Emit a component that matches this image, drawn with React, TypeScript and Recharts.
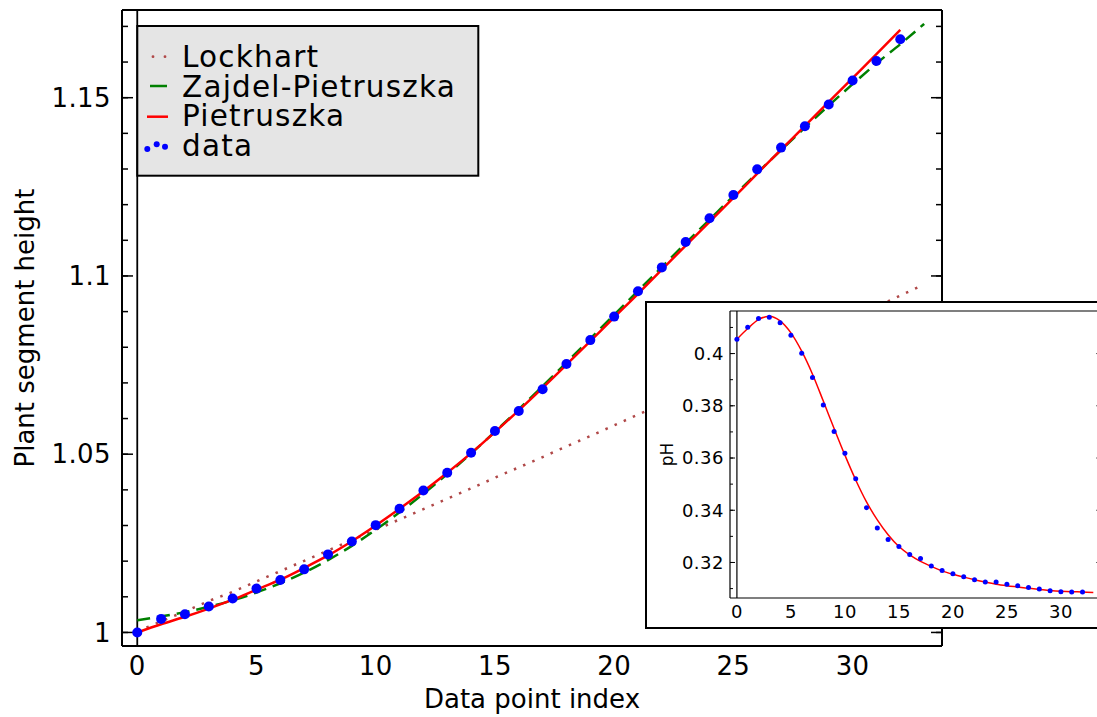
import React from 'react';
import { ComposedChart, Line, Scatter, XAxis, YAxis, ReferenceLine, Legend } from 'recharts';

// main plot: plant segment height vs data point index
const pointIndex = [0, 1, 2, 3, 4, 5, 6, 7, 8, 9, 10, 11, 12, 13, 14, 15, 16, 17, 18, 19, 20, 21, 22, 23, 24, 25, 26, 27, 28, 29, 30, 31, 32];
const plantHeight = [
  1.0, 1.0038, 1.0051, 1.0073, 1.0095, 1.0123, 1.0147, 1.0177, 1.0219, 1.0255, 1.0301,
  1.0347, 1.0398, 1.0448, 1.0504, 1.0565, 1.0621, 1.0682, 1.0753, 1.082, 1.0886,
  1.0957, 1.1024, 1.1095, 1.1162, 1.1227, 1.1299, 1.136, 1.142, 1.1481, 1.1548, 1.1603, 1.1664,
];
const curveIndex = [0, 1, 2, 3, 4, 5, 6, 7, 8, 9, 10, 11, 12, 13, 14, 15, 16, 17, 18, 19, 20, 21, 22, 23, 24, 25, 26, 27, 28, 29, 30, 31, 32, 33];
const lockhartFit = [
  1.0003, 1.0031, 1.0059, 1.0088, 1.0114, 1.0143, 1.0172, 1.0201, 1.023, 1.0259, 1.0288,
  1.0317, 1.0346, 1.0375, 1.0404, 1.0434, 1.0463, 1.0492, 1.0522, 1.0551, 1.0581,
  1.0611, 1.0641, 1.0671, 1.0701, 1.0731, 1.0761, 1.0792, 1.0822, 1.0853, 1.0884, 1.0914, 1.0945, 1.0976,
];
const zajdelFit = [
  1.0034, 1.0045, 1.0057, 1.0072, 1.009, 1.0112, 1.0138, 1.0168, 1.0203, 1.0243, 1.0288,
  1.0337, 1.0389, 1.0444, 1.0502, 1.0563, 1.0626, 1.0691, 1.0757, 1.0824, 1.0891,
  1.0958, 1.1025, 1.1092, 1.1158, 1.1224, 1.1289, 1.1353, 1.1416, 1.1478, 1.1538, 1.1596, 1.165, 1.1707,
];
const pietruszkaIndex = [0, 1, 2, 3, 4, 5, 6, 7, 8, 9, 10, 11, 12, 13, 14, 15, 16, 17, 18, 19, 20, 21, 22, 23, 24, 25, 26, 27, 28, 29, 30, 31, 32];
const pietruszkaFit = [
  1.0, 1.0023, 1.0044, 1.0067, 1.0092, 1.012, 1.0148, 1.0181, 1.0216, 1.0256, 1.03,
  1.0347, 1.0396, 1.0448, 1.0503, 1.0562, 1.0623, 1.0686, 1.0751, 1.0817, 1.0884,
  1.095, 1.1018, 1.1085, 1.1152, 1.1219, 1.1287, 1.1354, 1.1421, 1.1488, 1.1555, 1.1622, 1.169,
];

// inset: pH
const phIndex = [0, 1, 2, 3, 4, 5, 6, 7, 8, 9, 10, 11, 12, 13, 14, 15, 16, 17, 18, 19, 20, 21, 22, 23, 24, 25, 26, 27, 28, 29, 30, 31, 32];
const phMeasured = [
  0.4055, 0.4101, 0.4134, 0.4139, 0.4118, 0.407, 0.4001, 0.3908, 0.3803, 0.3702, 0.3618,
  0.3521, 0.341, 0.3332, 0.3288, 0.3261, 0.3231, 0.3215, 0.3187, 0.3169, 0.3157,
  0.3145, 0.3134, 0.3125, 0.3125, 0.3117, 0.3111, 0.3104, 0.3098, 0.3092, 0.3088, 0.3087, 0.3087,
];
const phFitIndex = [0, 1, 2, 3, 4, 5, 6, 7, 8, 9, 10, 11, 12, 13, 14, 15, 16, 17, 18, 19, 20, 21, 22, 23, 24, 25, 26, 27, 28, 29, 30, 31, 32, 33];
const phFit = [
  0.4055, 0.4096, 0.413, 0.4143, 0.4125, 0.4079, 0.4009, 0.3921, 0.3818, 0.3713, 0.3611,
  0.3516, 0.3432, 0.3363, 0.3306, 0.3261, 0.3229, 0.3204, 0.3185, 0.3168, 0.3155,
  0.3144, 0.3134, 0.3125, 0.3117, 0.3111, 0.3106, 0.3101, 0.3097, 0.3093, 0.309, 0.3088, 0.3087, 0.3085,
];

const legendLabels = ['Lockhart', 'Zajdel-Pietruszka', 'Pietruszka', 'data'];

const xDomain = [-0.64, 33.75];
const mainYDomain = [0.9962, 1.1746];
const insetYDomain = [0.3064, 0.4163];
const mainXTicks = [0, 5, 10, 15, 20, 25, 30];
const minorXTicks = [0, 1, 2, 3, 4, 5, 6, 7, 8, 9, 10, 11, 12, 13, 14, 15, 16, 17, 18, 19, 20, 21, 22, 23, 24, 25, 26, 27, 28, 29, 30, 31, 32, 33];
const mainYTicks = [1, 1.05, 1.1, 1.15];
const mainYMinor = [1, 1.01, 1.02, 1.03, 1.04, 1.05, 1.06, 1.07, 1.08, 1.09, 1.1, 1.11, 1.12, 1.13, 1.14, 1.15, 1.16, 1.17];
const insetYTicks = [0.32, 0.34, 0.36, 0.38, 0.4];
const insetYMinor = [0.31, 0.32, 0.33, 0.34, 0.35, 0.36, 0.37, 0.38, 0.39, 0.4, 0.41];

const FONT = '"DejaVu Sans", Verdana, sans-serif';

const toPoints = (xs: number[], ys: number[]) => xs.map((x, i) => ({ x, y: ys[i] }));

const blankTick = () => <g />;

type Frame = {
  yDomain: number[];
  yMajor: number[];
  yMinor: number[];
  major: number;
  minor: number;
  frameWidth: number;
  tickWidth: number;
};

// inward ticks on all four sides, drawn by mirrored axes with no labels
// (size 0.01 instead of 0: recharts skips axes with zero size)
function frameAxes(p: string, f: Frame) {
  const frame = { stroke: '#000', strokeWidth: f.frameWidth };
  const tl = { stroke: '#000', strokeWidth: f.tickWidth };
  const xs = [
    { side: 'bottom', ticks: mainXTicks, size: f.major, line: frame },
    { side: 'bottom', ticks: minorXTicks, size: f.minor, line: false },
    { side: 'top', ticks: mainXTicks, size: f.major, line: frame },
    { side: 'top', ticks: minorXTicks, size: f.minor, line: false },
  ];
  const ys = [
    { side: 'left', ticks: f.yMajor, size: f.major, line: frame },
    { side: 'left', ticks: f.yMinor, size: f.minor, line: false },
    { side: 'right', ticks: f.yMajor, size: f.major, line: frame },
    { side: 'right', ticks: f.yMinor, size: f.minor, line: false },
  ];
  return [
    ...xs.map((a, i) => (
      <XAxis
        key={`${p}x${i}`}
        xAxisId={`${p}x${i}`}
        orientation={a.side as any}
        mirror
        height={0.01}
        type="number"
        domain={xDomain}
        allowDataOverflow
        ticks={a.ticks}
        interval={0}
        tick={blankTick}
        tickSize={a.size}
        tickLine={tl}
        axisLine={a.line as any}
      />
    )),
    ...ys.map((a, i) => (
      <YAxis
        key={`${p}y${i}`}
        yAxisId={`${p}y${i}`}
        orientation={a.side as any}
        mirror
        width={0.01}
        type="number"
        domain={f.yDomain}
        allowDataOverflow
        ticks={a.ticks}
        interval={0}
        tick={blankTick}
        tickSize={a.size}
        tickLine={tl}
        axisLine={a.line as any}
      />
    )),
  ];
}

function MainLegend() {
  return (
    <svg width={344} height={152} style={{ display: 'block' }}>
      <rect x={1.3} y={1} width={341} height={149.7} fill="#e5e5e5" stroke="#000" strokeWidth={2} />
      <circle cx={17} cy={31.7} r={1.4} fill="#b04848" />
      <circle cx={29} cy={31.7} r={1.4} fill="#b04848" />
      <line x1={14} x2={31} y1={61} y2={61} stroke="#008000" strokeWidth={2.5} />
      <line x1={11} x2={32} y1={91.7} y2={91.7} stroke="#ff0000" strokeWidth={2.5} />
      <circle cx={11.3} cy={124} r={3} fill="#0000ff" />
      <circle cx={20.7} cy={119.3} r={3} fill="#0000ff" />
      <circle cx={29} cy={121.7} r={3} fill="#0000ff" />
      {legendLabels.map((t, i) => (
        <text key={t} x={46} y={41.7 + i * 29.8} fontSize={29.5} letterSpacing={1.2} fontFamily={FONT} fill="#000">
          {t}
        </text>
      ))}
    </svg>
  );
}

const MainDot = (p: any) => <circle cx={p.cx} cy={p.cy} r={5} fill="#0000ff" />;
const InsetDot = (p: any) => <circle cx={p.cx} cy={p.cy} r={2.5} fill="#0000ff" />;

const mainTickStyle = { fill: '#000', fontSize: 26, fontFamily: FONT, letterSpacing: 0.4 };
const insetTickStyle = { fill: '#000', fontSize: 18, fontFamily: FONT, letterSpacing: 0.5 };

function MainChart() {
  return (
    <ComposedChart width={1097} height={717} margin={{ top: 10, right: 155, bottom: 0, left: 0 }}>
      <XAxis
        dataKey="x"
        type="number"
        domain={xDomain}
        allowDataOverflow
        ticks={mainXTicks}
        interval={0}
        height={71}
        tickSize={0}
        tickMargin={10.5}
        tickLine={false}
        axisLine={false}
        tick={mainTickStyle}
        label={{
          content: (props: any) => {
            const vb = props.viewBox;
            return (
              <text x={vb.x + vb.width / 2} y={708} textAnchor="middle" fontSize={26} fontFamily={FONT} fill="#000">
                Data point index
              </text>
            );
          },
        }}
      />
      <YAxis
        dataKey="y"
        type="number"
        domain={mainYDomain}
        allowDataOverflow
        ticks={mainYTicks}
        interval={0}
        width={122}
        tickSize={0}
        tickMargin={11}
        tickLine={false}
        axisLine={false}
        tick={mainTickStyle}
        label={{
          content: (props: any) => {
            const vb = props.viewBox;
            const cx = vb.x + 34;
            const cy = vb.y + vb.height / 2;
            return (
              <text x={cx} y={cy} transform={`rotate(-90, ${cx}, ${cy})`} textAnchor="middle" fontSize={26} fontFamily={FONT} fill="#000">
                Plant segment height
              </text>
            );
          },
        }}
      />
      {frameAxes('m', { yDomain: mainYDomain, yMajor: mainYTicks, yMinor: mainYMinor, major: 11, minor: 6, frameWidth: 2, tickWidth: 1.5 })}
      <ReferenceLine x={0} stroke="#000" strokeWidth={1.8} />
      <Scatter name="data" data={toPoints(pointIndex, plantHeight)} shape={MainDot} isAnimationActive={false} />
      <Line
        name="Lockhart"
        data={toPoints(curveIndex, lockhartFit)}
        dataKey="y"
        type="monotone"
        stroke="#b04848"
        strokeWidth={2.5}
        strokeDasharray="2.5 7.5"
        dot={false}
        activeDot={false}
        isAnimationActive={false}
      />
      <Line
        name="Zajdel-Pietruszka"
        data={toPoints(curveIndex, zajdelFit)}
        dataKey="y"
        type="monotone"
        stroke="#008000"
        strokeWidth={2.5}
        strokeDasharray="13 7"
        dot={false}
        activeDot={false}
        isAnimationActive={false}
      />
      <Line
        name="Pietruszka"
        data={toPoints(pietruszkaIndex, pietruszkaFit)}
        dataKey="y"
        type="monotone"
        stroke="#ff0000"
        strokeWidth={2.5}
        dot={false}
        activeDot={false}
        isAnimationActive={false}
      />
      <Legend
        layout="vertical"
        align="center"
        verticalAlign="middle"
        wrapperStyle={{ left: 136, top: 25, width: 344, height: 152 }}
        content={MainLegend}
      />
    </ComposedChart>
  );
}

function InsetChart() {
  return (
    <ComposedChart width={460} height={324} margin={{ top: 8, right: 5.6, bottom: 0, left: 0 }}>
      <XAxis
        dataKey="x"
        type="number"
        domain={xDomain}
        allowDataOverflow
        ticks={mainXTicks}
        interval={0}
        height={29}
        tickSize={0}
        tickMargin={7}
        tickLine={false}
        axisLine={false}
        tick={insetTickStyle}
      />
      <YAxis
        dataKey="y"
        type="number"
        domain={insetYDomain}
        allowDataOverflow
        ticks={insetYTicks}
        interval={0}
        width={83}
        tickSize={0}
        tickMargin={6}
        tickLine={false}
        axisLine={false}
        tick={insetTickStyle}
        label={{
          content: (props: any) => {
            const vb = props.viewBox;
            const cx = vb.x + 25.5;
            const cy = vb.y + vb.height / 2;
            return (
              <text x={cx} y={cy} transform={`rotate(-90, ${cx}, ${cy})`} textAnchor="middle" fontSize={17} fontFamily={FONT} fill="#000">
                pH
              </text>
            );
          },
        }}
      />
      {frameAxes('i', { yDomain: insetYDomain, yMajor: insetYTicks, yMinor: insetYMinor, major: 5, minor: 3, frameWidth: 1.2, tickWidth: 1 })}
      <ReferenceLine x={0} stroke="#000" strokeWidth={1.2} />
      <Scatter name="pH data" data={toPoints(phIndex, phMeasured)} shape={InsetDot} isAnimationActive={false} />
      <Line
        name="pH fit"
        data={toPoints(phFitIndex, phFit)}
        dataKey="y"
        type="monotone"
        stroke="#ff0000"
        strokeWidth={1.5}
        dot={false}
        activeDot={false}
        isAnimationActive={false}
      />
    </ComposedChart>
  );
}

export default function App() {
  return (
    <div style={{ position: 'fixed', left: 0, top: 0, width: 1097, height: 717, overflow: 'hidden', background: '#fff' }}>
      <div style={{ position: 'absolute', left: 0, top: 0 }}>
        <MainChart />
      </div>
      <div
        style={{
          position: 'absolute',
          left: 645,
          top: 301,
          width: 480,
          height: 328,
          boxSizing: 'border-box',
          border: '2px solid #000',
          background: '#fff',
        }}
      />
      <div style={{ position: 'absolute', left: 647, top: 303 }}>
        <InsetChart />
      </div>
    </div>
  );
}
